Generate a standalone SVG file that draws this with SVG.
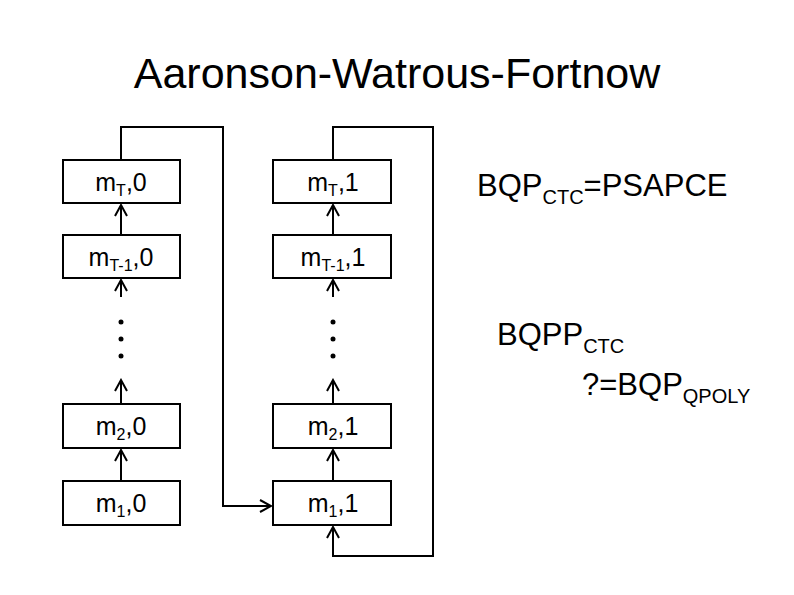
<svg xmlns="http://www.w3.org/2000/svg" width="794" height="595" viewBox="0 0 794 595">
<style>
text{font-family:"Liberation Sans",Arial,sans-serif;fill:#000}
.b{fill:#fff;stroke:#000;stroke-width:2}
.bt{font-size:25px;text-anchor:middle}
.c{fill:none;stroke:#000;stroke-width:2}
.t{font-size:31px}
</style>
<defs><marker id="a" markerWidth="14" markerHeight="14" refX="12" refY="7" orient="auto" markerUnits="userSpaceOnUse"><path d="M1,1 L12,7 L1,13" fill="none" stroke="#000" stroke-width="2"/></marker></defs>
<rect width="794" height="595" fill="#fff"/>
<text x="397" y="88" font-size="43" text-anchor="middle">Aaronson-Watrous-Fortnow</text>
<g id="connectors" class="c">
<path d="M121,160 V127 H223 V506 H271" marker-end="url(#a)"/>
<path d="M333,160 V127 H433 V556 H333 V527" marker-end="url(#a)"/>
<path d="M121,235 V205" marker-end="url(#a)"/>
<path d="M333,235 V205" marker-end="url(#a)"/>
<path d="M121,297 V280" marker-end="url(#a)"/>
<path d="M333,297 V280" marker-end="url(#a)"/>
<path d="M121,404 V380" marker-end="url(#a)"/>
<path d="M333,404 V380" marker-end="url(#a)"/>
<path d="M121,481 V450" marker-end="url(#a)"/>
<path d="M333,481 V450" marker-end="url(#a)"/>
</g>
<g id="dots0"><circle cx="121" cy="322" r="2.5"/><circle cx="121" cy="339" r="2.5"/><circle cx="121" cy="356" r="2.5"/></g>
<g id="dots1"><circle cx="333" cy="322" r="2.5"/><circle cx="333" cy="339" r="2.5"/><circle cx="333" cy="356" r="2.5"/></g>
<g id="mT0"><rect class="b" x="63" y="160" width="117" height="43"/><text class="bt" x="121" y="191">m<tspan font-size="16" dy="5">T</tspan><tspan dy="-5">,0</tspan></text></g>
<g id="mT1_0"><rect class="b" x="63" y="235" width="117" height="43"/><text class="bt" x="121" y="266">m<tspan font-size="16" dy="5">T-1</tspan><tspan dy="-5">,0</tspan></text></g>
<g id="m2_0"><rect class="b" x="63" y="404" width="117" height="44"/><text class="bt" x="121" y="435">m<tspan font-size="16" dy="5">2</tspan><tspan dy="-5">,0</tspan></text></g>
<g id="m1_0"><rect class="b" x="63" y="481" width="117" height="44"/><text class="bt" x="121" y="512">m<tspan font-size="16" dy="5">1</tspan><tspan dy="-5">,0</tspan></text></g>
<g id="mT1"><rect class="b" x="273" y="160" width="118" height="43"/><text class="bt" x="333" y="191">m<tspan font-size="16" dy="5">T</tspan><tspan dy="-5">,1</tspan></text></g>
<g id="mT1_1"><rect class="b" x="273" y="235" width="118" height="43"/><text class="bt" x="333" y="266">m<tspan font-size="16" dy="5">T-1</tspan><tspan dy="-5">,1</tspan></text></g>
<g id="m2_1"><rect class="b" x="273" y="404" width="118" height="44"/><text class="bt" x="333" y="435">m<tspan font-size="16" dy="5">2</tspan><tspan dy="-5">,1</tspan></text></g>
<g id="m1_1"><rect class="b" x="273" y="481" width="118" height="44"/><text class="bt" x="333" y="512">m<tspan font-size="16" dy="5">1</tspan><tspan dy="-5">,1</tspan></text></g>
<text class="t" x="477" y="196">BQP<tspan font-size="20" dy="8">CTC</tspan><tspan dy="-8">=PSAPCE</tspan></text>
<text class="t" x="497" y="345">BQPP<tspan font-size="20" dy="8">CTC</tspan></text>
<text class="t" x="582" y="395">?=BQP<tspan font-size="20" dy="8">QPOLY</tspan></text>
</svg>
